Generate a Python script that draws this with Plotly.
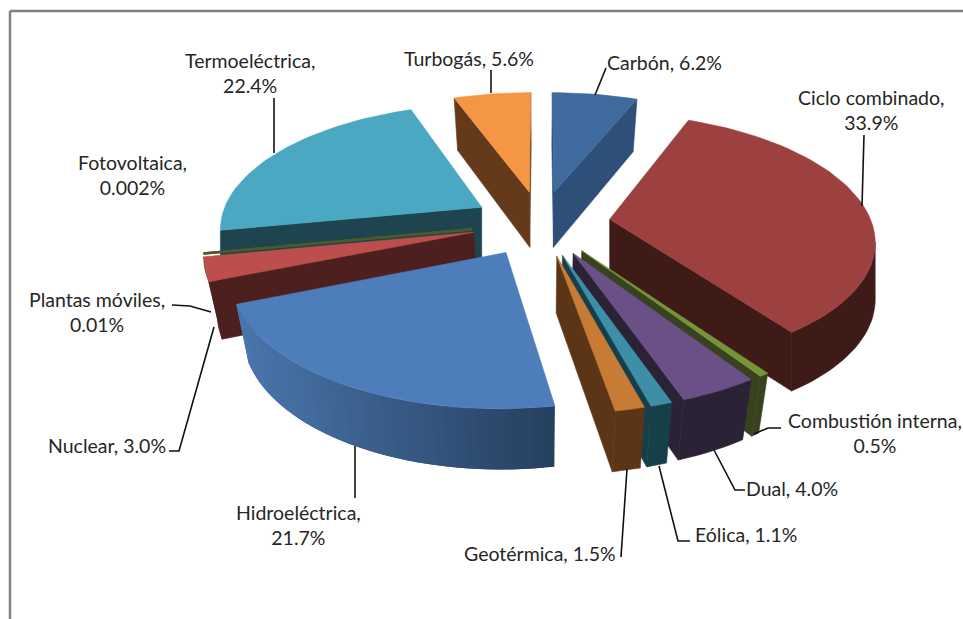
import math
import plotly.graph_objects as go

# ---- data ----
categories = ["Carbón", "Ciclo combinado", "Combustión interna", "Dual", "Eólica", "Geotérmica",
              "Hidroeléctrica", "Nuclear", "Plantas móviles", "Fotovoltaica", "Termoeléctrica", "Turbogás"]
values = [6.2, 33.9, 0.5, 4.0, 1.1, 1.5, 21.7, 3.0, 0.01, 0.002, 22.4, 5.6]
value_text = ["6.2%", "33.9%", "0.5%", "4.0%", "1.1%", "1.5%", "21.7%", "3.0%", "0.01%", "0.002%", "22.4%", "5.6%"]

# ---- style ----
top_colors = ["#3f6b9e", "#9c413f", "#769538", "#6b5088", "#3d8fa8", "#c87b35",
              "#4e7dbb", "#bc4f4c", "#4b5a28", "#4b5a28", "#4aa8c2", "#f59644"]
wall_left = ["#2d4f78", "#3f1b18", "#38421f", "#2c2236", "#173f4a", "#5c3517",
             "#4a76ad", "#4d1f1f", "#4b5a28", "#4b5a28", "#1e444f", "#643a1a"]
wall_right = ["#2d4f78", "#3f1b18", "#38421f", "#2c2236", "#173f4a", "#5c3517",
              "#26405f", "#4d1f1f", "#4b5a28", "#4b5a28", "#1e444f", "#643a1a"]
radial_wall = ["#2d4f78", "#3f1b18", "#38421f", "#2c2236", "#173f4a", "#5c3517",
               "#26405f", "#4d1f1f", "#4b5a28", "#4b5a28", "#1e444f", "#643a1a"]
wall_lean = [0.04, 0.0, 0.04, 0.04, 0.04, 0.04, 0.04, 0.04, 0.04, 0.04, 0.0, 0.04]
draw_order = [11, 0, 10, 7, 8, 9, 1, 2, 3, 4, 5, 6]

CX, CY, A, B, P, H, PULL = 541, 223, 262, 123, 0.15, 56, 0.265

label_pos = [(664, 62), (871, 110), (875, 433), (792, 488), (746, 534), (540, 553),
             (298, 525), (107, 445), (97, 312), (132, 175), (250, 73), (469, 58)]
two_lines = [False, True, True, False, False, False, True, False, True, True, True, False]
leaders = [
    [(606, 68), (595, 95)],
    [(864, 135), (862, 206)],
    [(754, 434), (768, 428), (781, 428)],
    [(714, 450), (735, 490), (745, 490)],
    [(659, 466), (678, 541), (690, 541)],
    [(627, 469), (621, 557)],
    [(355, 446), (355, 498)],
    [(169, 451), (179, 451), (214, 327)],
    [(172, 305), (190, 306), (211, 312)],
    [(274, 98), (274, 153)],
    [(491, 70), (491, 93)],
]


def project(X, Y, z=0.0, lean=0.0):
    s = 1.0 / (1.0 + P * Y)
    return CX + A * X * s * (1 - lean * z), CY - B * Y * s + z * H * s ** 0.4


def mix(c1, c2, t):
    a = [int(c1[i:i + 2], 16) for i in (1, 3, 5)]
    b = [int(c2[i:i + 2], 16) for i in (1, 3, 5)]
    return "#%02x%02x%02x" % tuple(round(u + (v - u) * t) for u, v in zip(a, b))


def poly(pts, color, width=0.6):
    return go.Scatter(x=[p[0] for p in pts] + [pts[0][0]], y=[p[1] for p in pts] + [pts[0][1]],
                      mode="lines", fill="toself", fillcolor=color,
                      line=dict(color=color, width=width), hoverinfo="skip", showlegend=False)


total = sum(values)
bounds = [0.0]
for v in values:
    bounds.append(bounds[-1] + v / total * 2 * math.pi)

fig = go.Figure()
for i in draw_order:
    a0, a1 = bounds[i], bounds[i + 1]
    mid = (a0 + a1) / 2
    lean = wall_lean[i]
    tx, ty = PULL * math.sin(mid), PULL * math.cos(mid)
    n = max(2, int((a1 - a0) / math.radians(2)))
    arc = [(tx + math.sin(a0 + (a1 - a0) * k / n), ty + math.cos(a0 + (a1 - a0) * k / n)) for k in range(n + 1)]
    T = project(tx, ty)
    sliver = values[i] < 0.1
    if not sliver:
        # radial walls that face the viewer
        for edge, other in ((arc[0], arc[-1]), (arc[-1], arc[0])):
            E, O = project(*edge), project(*other)
            if abs(E[0] - T[0]) < 1e-6:
                continue
            line_y = T[1] + (E[1] - T[1]) * (O[0] - T[0]) / (E[0] - T[0])
            if line_y > O[1]:
                fig.add_trace(poly([T, E, project(*edge, 1, lean), project(tx, ty, 1, lean)], radial_wall[i]))
        # outer wall: only the arc steps that run leftwards on screen face the viewer
        front = [k for k in range(n) if project(*arc[k + 1])[0] < project(*arc[k])[0]]
        if front:
            xs = [project(*arc[k])[0] for k in front] + [project(*arc[front[-1] + 1])[0]]
            xmin, xmax = min(xs), max(xs)
            if wall_left[i] == wall_right[i]:
                idx = front + [front[-1] + 1]
                fig.add_trace(poly([project(*arc[k]) for k in idx] +
                                   [project(*arc[k], 1, lean) for k in reversed(idx)], wall_left[i]))
            else:
                # gradient wall: each strip overlaps its neighbour so no seams show
                for k in front:
                    k2 = min(k + 2, n)
                    p1 = project(*arc[k])
                    t = (p1[0] - xmin) / max(xmax - xmin, 1)
                    fig.add_trace(poly([p1, project(*arc[k2]), project(*arc[k2], 1, lean), project(*arc[k], 1, lean)],
                                       mix(wall_left[i], wall_right[i], t), 0))
    fig.add_trace(poly([T] + [project(*q) for q in arc], top_colors[i], 2.5 if sliver else 0.6))

for path in leaders:
    fig.add_trace(go.Scatter(x=[p[0] for p in path], y=[p[1] for p in path], mode="lines",
                             line=dict(color="#111111", width=1.6), hoverinfo="skip", showlegend=False))

annotations = []
for name, txt, pos, two in zip(categories, value_text, label_pos, two_lines):
    annotations.append(dict(x=pos[0], y=pos[1], xref="x", yref="y", showarrow=False,
                            text=f"{name},<br>{txt}" if two else f"{name}, {txt}",
                            font=dict(family="Lato", size=19.5, color="#262626"), align="center"))

frame = dict(color="#808080", width=2.5)
fig.update_layout(
    width=963, height=619, margin=dict(l=0, r=0, t=0, b=0), autosize=False,
    paper_bgcolor="white", plot_bgcolor="white", annotations=annotations, showlegend=False,
    xaxis=dict(range=[0, 963], visible=False, fixedrange=True),
    yaxis=dict(range=[619, 0], visible=False, fixedrange=True),
    shapes=[dict(type="line", xref="x", yref="y", x0=10, x1=963, y0=11, y1=11, line=frame),
            dict(type="line", xref="x", yref="y", x0=10, x1=10, y0=11, y1=619, line=frame)],
)
fig.write_html("out.html", config=dict(displayModeBar=False),
               post_script="document.body.style.margin='0';")
